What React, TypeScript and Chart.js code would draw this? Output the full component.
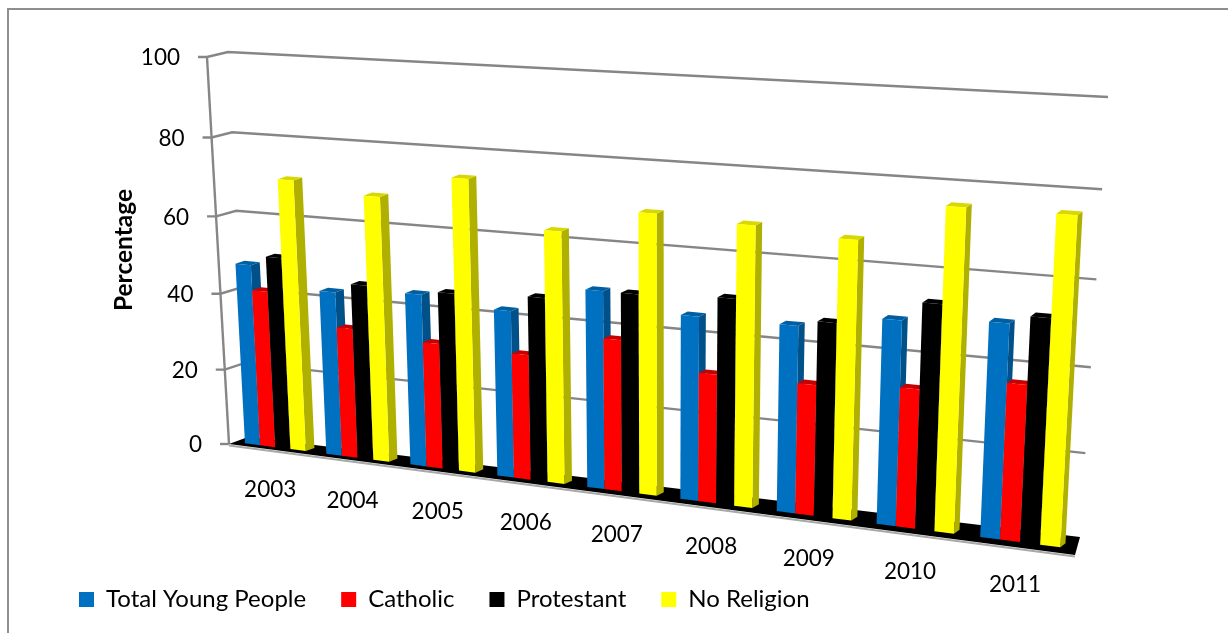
import React, { useEffect, useRef } from "react";
import { Chart, registerables } from "chart.js";

Chart.register(...registerables);

const categories = ["2003", "2004", "2005", "2006", "2007", "2008", "2009", "2010", "2011"];
const totalYoungPeople = [47.5, 42.5, 44, 42, 49, 45, 45, 48.5, 50];
const catholic = [41, 33.5, 32, 31.5, 37.5, 31.5, 31.5, 33, 36.5];
const protestant = [50, 45, 45, 46, 49, 50, 46.5, 53, 52];
const noReligion = [70, 67.5, 73.5, 62.5, 68.5, 67.5, 66, 75, 75];
const yTicks = [0, 20, 40, 60, 80, 100];

type P = [number, number];

// Perspective plane: (u, v) in the unit square to a picture quadrilateral.
function plane(p0: P, p1: P, p2: P, p3: P) {
  const [x0, y0] = p0, [x1, y1] = p1, [x2, y2] = p2, [x3, y3] = p3;
  const dx1 = x1 - x2, dx2 = x3 - x2, sx = x0 - x1 + x2 - x3;
  const dy1 = y1 - y2, dy2 = y3 - y2, sy = y0 - y1 + y2 - y3;
  const den = dx1 * dy2 - dx2 * dy1;
  const g = (sx * dy2 - dx2 * sy) / den;
  const h = (dx1 * sy - sx * dy1) / den;
  const a = x1 - x0 + g * x1, b = x3 - x0 + h * x3;
  const d = y1 - y0 + g * y1, e = y3 - y0 + h * y3;
  return (u: number, v: number): P => {
    const w = g * u + h * v + 1;
    return [(a * u + b * v + x0) / w, (d * u + e * v + y0) / w];
  };
}

const barFront = plane([235, 442], [1074, 549], [1098, 99], [214, 55]);
const barBack = plane([244, 439], [1079, 545], [1103, 95], [223, 52]);
const backWall = plane([248, 437], [1080, 537], [1108, 97], [228, 52]);
const axisPlane = plane([229, 444], [1075, 555], [1100, 99], [207, 57]);

const faces: Record<string, { front: string; side: string; top: string }> = {
  blue: { front: "#0070C0", side: "#00508A", top: "#005FA3" },
  red: { front: "#FF0000", side: "#B00000", top: "#C80000" },
  black: { front: "#000000", side: "#000000", top: "#000000" },
  yellow: { front: "#FFFF00", side: "#B0B000", top: "#D8D800" },
};
const faceKeys = ["blue", "red", "black", "yellow"];

const GRID = "#868686";
const FONT = "Lato, 'Open Sans', sans-serif";

function poly(ctx: CanvasRenderingContext2D, pts: P[], fill: string) {
  ctx.beginPath();
  pts.forEach((p, i) => (i ? ctx.lineTo(p[0], p[1]) : ctx.moveTo(p[0], p[1])));
  ctx.closePath();
  ctx.fillStyle = fill;
  ctx.fill();
}

function line(ctx: CanvasRenderingContext2D, pts: P[]) {
  ctx.beginPath();
  pts.forEach((p, i) => (i ? ctx.lineTo(p[0], p[1]) : ctx.moveTo(p[0], p[1])));
  ctx.stroke();
}

const perspectivePlugin = {
  id: "perspective",
  beforeDraw(chart: any) {
    const ctx: CanvasRenderingContext2D = chart.ctx;
    ctx.save();
    ctx.fillStyle = "#fff";
    ctx.fillRect(0, 0, chart.width, chart.height);
    ctx.strokeStyle = "#8E8E8E";
    ctx.lineWidth = 2;
    line(ctx, [[8, chart.height], [8, 9], [chart.width, 9]]);
    ctx.restore();
  },
  beforeDatasetsDraw(chart: any) {
    const ctx: CanvasRenderingContext2D = chart.ctx;
    const { chartArea: area, scales } = chart;
    const toU = (x: number) => (x - area.left) / (area.right - area.left);
    const toV = (y: number) => (area.bottom - y) / (area.bottom - area.top);

    ctx.save();
    ctx.lineCap = "butt";
    // walls
    ctx.strokeStyle = GRID;
    ctx.lineWidth = 2.4;
    line(ctx, [axisPlane(0, 0), axisPlane(0, 1)]);
    ctx.textAlign = "right";
    ctx.textBaseline = "middle";
    ctx.font = `22.5px ${FONT}`;
    scales.y.ticks.forEach((t: any) => {
      const v = toV(scales.y.getPixelForValue(t.value));
      const a = axisPlane(0, v);
      const tickEnd: P = [a[0] - 9, a[1]];
      const pts: P[] = v > 0.001 ? [tickEnd, a, backWall(0, v), backWall(1, v)] : [tickEnd, a];
      line(ctx, pts);
      ctx.fillStyle = "#000";
      ctx.fillText(String(t.value), tickEnd[0] - 18, a[1] + 1);
    });

    // floor
    const fl = axisPlane(0, 0), fr = axisPlane(1, 0), bl = backWall(0, 0), br = backWall(1, 0);
    ctx.strokeStyle = "#A8A8A8";
    ctx.lineWidth = 2;
    line(ctx, [[fl[0], fl[1] + 1.5], [fr[0], fr[1] + 1.5]]);
    poly(ctx, [fl, bl, br, fr], "#000");

    // bars, left to right so that each one covers its neighbour's side face
    const count = chart.data.labels.length;
    for (let i = 0; i < count; i++) {
      chart.data.datasets.forEach((_: any, di: number) => {
        const el = chart.getDatasetMeta(di).data[i];
        const { x, y, base, width } = el.getProps(["x", "y", "base", "width"], true);
        const u0 = toU(x - width / 2), u1 = toU(x + width / 2);
        const v0 = toV(base), v1 = toV(y);
        const c = faces[faceKeys[di]];
        poly(ctx, [barFront(u1, v0), barBack(u1, v0), barBack(u1, v1), barFront(u1, v1)], c.side);
        poly(ctx, [barFront(u0, v1), barFront(u1, v1), barBack(u1, v1), barBack(u0, v1)], c.top);
        poly(ctx, [barFront(u0, v0), barFront(u1, v0), barFront(u1, v1), barFront(u0, v1)], c.front);
      });
    }

    // category labels along the slanted floor
    ctx.textAlign = "center";
    ctx.fillStyle = "#000";
    scales.x.ticks.forEach((t: any, i: number) => {
      const p = barFront(toU(scales.x.getPixelForTick(i)), 0);
      ctx.fillText(scales.x.getLabelForValue(t.value), p[0] - 5, p[1] + 43);
    });

    // value axis title
    ctx.save();
    ctx.translate(124, 250);
    ctx.rotate(-Math.PI / 2);
    ctx.font = `bold 24.5px ${FONT}`;
    ctx.fillText(scales.y.options.title.text, 0, 0);
    ctx.restore();

    ctx.restore();
    return false;
  },
};

export default function App() {
  const ref = useRef<HTMLCanvasElement>(null);
  useEffect(() => {
    const seriesStyle = (label: string, data: number[], key: string) => ({
      label,
      data,
      backgroundColor: faces[key].front,
      borderWidth: 0,
      categoryPercentage: 0.75,
      barPercentage: 1,
    });
    const chart = new Chart(ref.current as HTMLCanvasElement, {
      type: "bar",
      data: {
        labels: categories,
        datasets: [
          seriesStyle("Total Young People", totalYoungPeople, "blue"),
          seriesStyle("Catholic", catholic, "red"),
          seriesStyle("Protestant", protestant, "black"),
          seriesStyle("No Religion", noReligion, "yellow"),
        ],
      },
      options: {
        responsive: false,
        animation: false,
        layout: { padding: { left: 44, right: 0, top: 0, bottom: 11.5 } },
        plugins: {
          tooltip: { enabled: false },
          legend: {
            position: "bottom",
            align: "start",
            labels: {
              boxWidth: 15,
              boxHeight: 15,
              padding: 35,
              color: "#000",
              font: { family: FONT, size: 24 },
            },
          },
        },
        scales: {
          x: { display: false, grid: { display: false } },
          y: {
            display: false,
            min: yTicks[0],
            max: yTicks[yTicks.length - 1],
            ticks: { stepSize: yTicks[1] - yTicks[0] },
            title: { display: false, text: "Percentage" },
          },
        },
      },
      plugins: [perspectivePlugin],
    } as any);
    return () => chart.destroy();
  }, []);
  return (
    <canvas
      ref={ref}
      width={1228}
      height={633}
      style={{ position: "absolute", left: 0, top: 0, display: "block" }}
    />
  );
}
